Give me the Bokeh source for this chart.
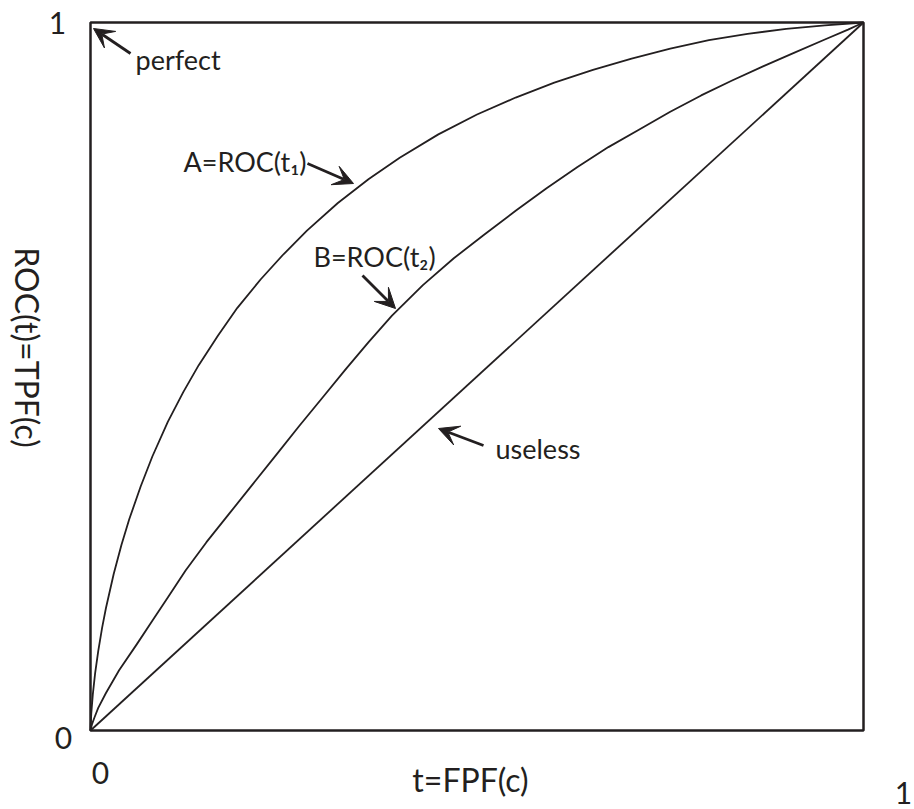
from bokeh.plotting import figure
from bokeh.models import Range1d, Arrow, VeeHead
from bokeh.core.properties import value
from bokeh.embed import file_html
from bokeh.resources import INLINE

# ROC curves: true positive fraction (TPF) against false positive fraction (FPF)
fpf_a = [0, 0.001, 0.003, 0.006, 0.010, 0.015, 0.020, 0.030, 0.040, 0.050, 0.065, 0.080,
         0.100, 0.120, 0.140, 0.165, 0.190, 0.220, 0.250, 0.280, 0.320, 0.360, 0.400,
         0.450, 0.500, 0.550, 0.600, 0.650, 0.700, 0.750, 0.800, 0.850, 0.900, 0.950, 1]
tpf_a = [0, 0.024, 0.051, 0.081, 0.112, 0.145, 0.173, 0.221, 0.262, 0.298, 0.345, 0.387,
         0.436, 0.478, 0.516, 0.558, 0.597, 0.637, 0.673, 0.706, 0.745, 0.779, 0.809,
         0.842, 0.870, 0.894, 0.915, 0.933, 0.949, 0.963, 0.975, 0.984, 0.991, 0.996, 1]

fpf_b = [0, 0.002, 0.005, 0.010, 0.020, 0.037, 0.060, 0.080, 0.100, 0.123, 0.150, 0.180,
         0.210, 0.240, 0.270, 0.300, 0.330, 0.360, 0.390, 0.430, 0.470, 0.510, 0.550,
         0.590, 0.630, 0.670, 0.710, 0.750, 0.790, 0.830, 0.870, 0.910, 0.950, 0.980, 1]
tpf_b = [0, 0.009, 0.018, 0.032, 0.053, 0.085, 0.122, 0.155, 0.188, 0.226, 0.266, 0.307,
         0.348, 0.389, 0.430, 0.470, 0.510, 0.549, 0.586, 0.629, 0.667, 0.701, 0.734,
         0.766, 0.796, 0.824, 0.849, 0.874, 0.897, 0.918, 0.938, 0.957, 0.976, 0.990, 1]

# chance line
fpf_chance = [0, 1]
tpf_chance = [0, 1]

tick_labels = ["0", "1"]
curve_labels = ["perfect", "A=ROC(t\u2081)", "B=ROC(t\u2082)", "useless"]
x_title = "t=FPF(c)"
y_title = "ROC(t)=TPF(c)"

INK = "#231f20"
FONT = value("Lato")

W, H = 914, 809
# canvas pixels of the unit square
LEFT, RIGHT, TOP, BOTTOM = 90, 863, 22, 730
LIFT = 10  # raise text so its baseline sits where intended


def sx(px):
    return (px - LEFT) / (RIGHT - LEFT)


def sy(py):
    return (BOTTOM - py) / (BOTTOM - TOP)


def ty(py):
    return sy(py - LIFT)


p = figure(width=W, height=H,
           x_range=Range1d(sx(0), sx(W)), y_range=Range1d(sy(H), sy(0)),
           x_axis_type=None, y_axis_type=None,
           output_backend="svg", toolbar_location=None, min_border=0)
p.grid.visible = False
p.outline_line_color = None

# unit square frame
p.quad(left=[0], right=[1], bottom=[0], top=[1], fill_color=None,
       line_color=INK, line_width=2.5)

# curves
p.line(fpf_a, tpf_a, line_color=INK, line_width=1.8, line_join="round")
p.line(fpf_b, tpf_b, line_color=INK, line_width=1.8, line_join="round")
p.line(fpf_chance, tpf_chance, line_color=INK, line_width=1.8)

# axis end values
p.text(x=[sx(63), sx(57)], y=[ty(747), ty(32)], text=tick_labels,
       text_font=FONT, text_font_size="30px", text_color=INK,
       text_align="center", text_baseline="alphabetic")
p.text(x=[sx(100), sx(903)], y=[ty(782), ty(802)], text=tick_labels,
       text_font=FONT, text_font_size="30px", text_color=INK,
       text_align="center", text_baseline="alphabetic")

# axis titles
p.text(x=[sx(470)], y=[ty(789)], text=[x_title], text_font=FONT,
       text_font_size="32px", text_color=INK, text_align="center",
       text_baseline="alphabetic")
p.text(x=[sx(27)], y=[sy(347)], text=[y_title], text_font=FONT,
       text_font_size="32px", text_color=INK, text_align="center",
       text_baseline="middle", angle=-1.5707963)

# curve annotations
p.text(x=[sx(135), sx(183), sx(313), sx(495)],
       y=[ty(69), ty(171), ty(266), ty(458)],
       text=curve_labels, text_font=FONT, text_font_size="27px",
       text_color=INK, text_align="left", text_baseline="alphabetic")

arrows = [((130, 53), (93, 28)),
          ((307, 163), (353, 183)),
          ((362, 275), (395, 308)),
          ((483, 445), (438, 428))]
for (x0, y0), (x1, y1) in arrows:
    p.add_layout(Arrow(end=VeeHead(size=20, fill_color=INK, line_color=INK, line_width=1),
                       x_start=sx(x0), y_start=sy(y0), x_end=sx(x1), y_end=sy(y1),
                       line_color=INK, line_width=2.8))

open("out.html", "w").write(file_html(p, INLINE))
